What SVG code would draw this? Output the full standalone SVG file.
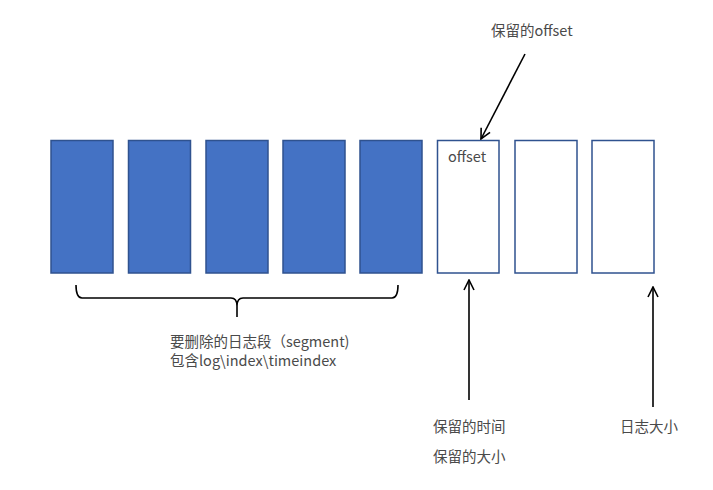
<svg xmlns="http://www.w3.org/2000/svg" width="713" height="490" viewBox="0 0 713 490">
<defs>
<marker id="ah" viewBox="0 0 12 12" refX="11" refY="6" markerWidth="12" markerHeight="12" markerUnits="userSpaceOnUse" orient="auto">
<path d="M1,1 L11,6 L1,11" fill="none" stroke="#000" stroke-width="1.6"/>
</marker>
<style>
.f{fill:#4472C4;stroke:#2F528F;stroke-width:1.5}
.o{fill:#fff;stroke:#2F528F;stroke-width:1.5}
.t{font-family:"Noto Sans CJK SC","Noto Sans",sans-serif;font-size:14.5px;fill:#4a4a4a}
.c{fill:none;stroke:#000;stroke-width:1.6}
</style>
</defs>
<rect width="713" height="490" fill="#fff"/>
<g id="seg1"><rect class="f" x="51" y="140.5" width="62" height="132.5"/></g>
<g id="seg2"><rect class="f" x="128.5" y="140.5" width="62" height="132.5"/></g>
<g id="seg3"><rect class="f" x="206" y="140.5" width="62" height="132.5"/></g>
<g id="seg4"><rect class="f" x="283" y="140.5" width="62" height="132.5"/></g>
<g id="seg5"><rect class="f" x="360" y="140.5" width="62" height="132.5"/></g>
<g id="seg6"><rect class="o" x="437.5" y="140.5" width="61.5" height="132.5"/><text class="t" x="448" y="162">offset</text></g>
<g id="seg7"><rect class="o" x="515" y="140.5" width="62" height="132.5"/></g>
<g id="seg8"><rect class="o" x="592" y="140.5" width="62" height="132.5"/></g>
<g id="labels">
<text class="t" x="491" y="36">保留的offset</text>
<text class="t" x="170" y="347" font-size="14">要删除的日志段（segment)</text>
<text class="t" x="170" y="366" font-size="14">包含log\index\timeindex</text>
<text class="t" x="433" y="432">保留的时间</text>
<text class="t" x="433" y="462">保留的大小</text>
<text class="t" x="620" y="432">日志大小</text>
</g>
<g id="connectors">
<path class="c" d="M76,285 Q76,298 82,298 L231,298 Q237,298 237,306 L237,317 M237,306 Q237,298 243,298 L392,298 Q398,298 398,285"/>
<line class="c" x1="525" y1="54" x2="481" y2="139" marker-end="url(#ah)"/>
<line class="c" x1="469" y1="400" x2="469" y2="280" marker-end="url(#ah)"/>
<line class="c" x1="653" y1="407" x2="653" y2="287" marker-end="url(#ah)"/>
</g>
</svg>
